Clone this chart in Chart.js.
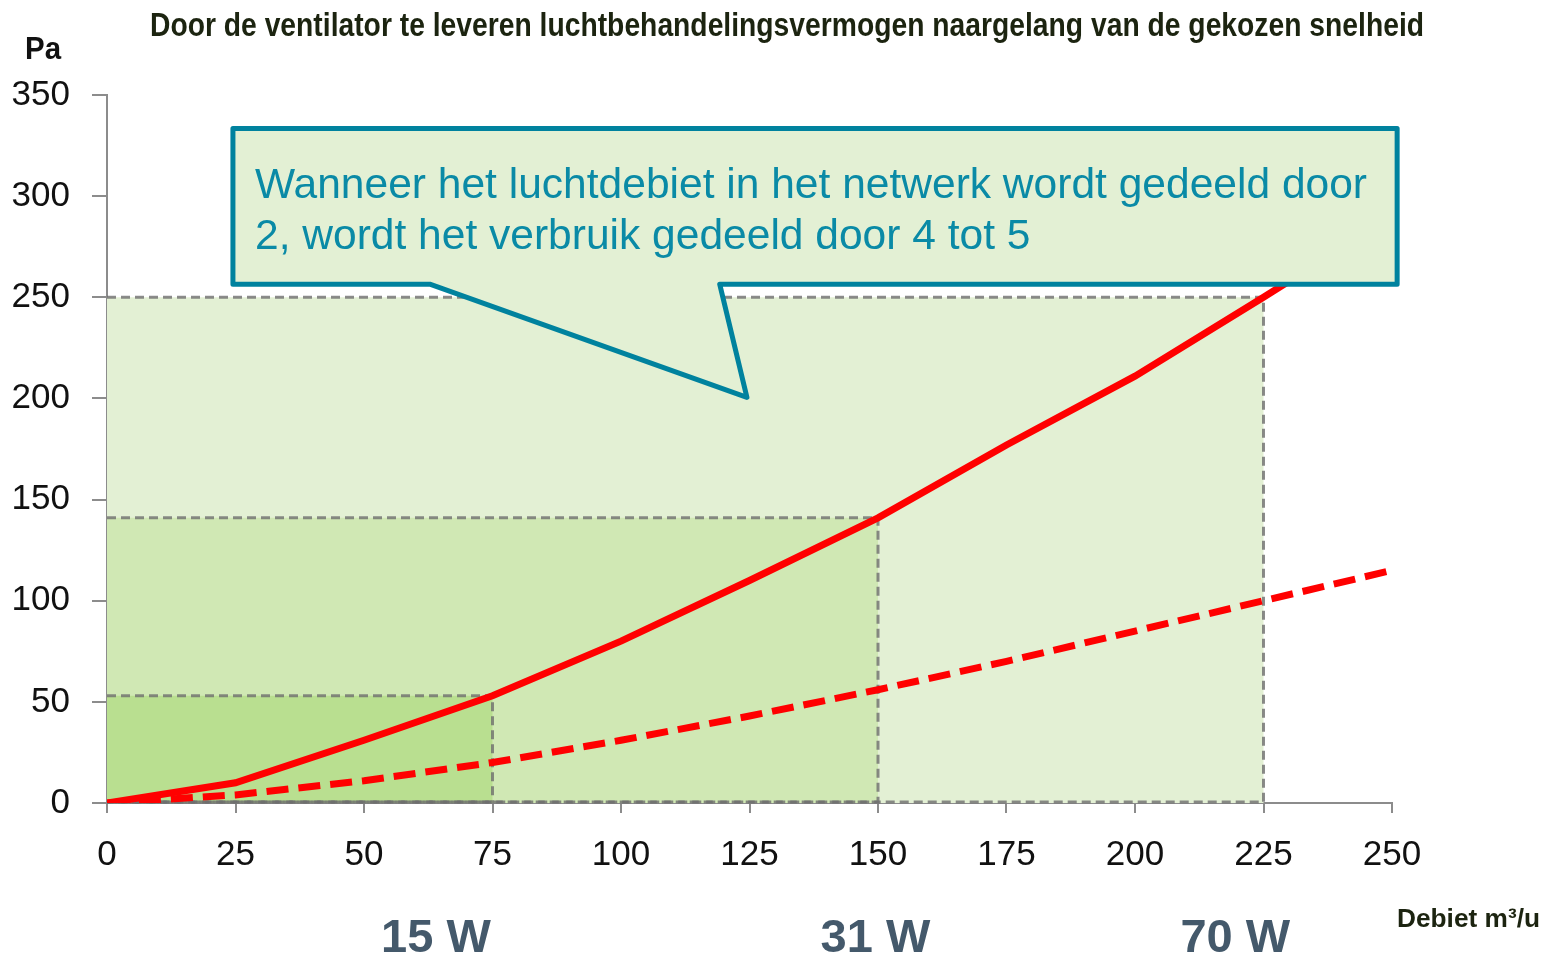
<!DOCTYPE html>
<html>
<head>
<meta charset="utf-8">
<script src="https://cdn.jsdelivr.net/npm/chart.js@4.4.1/dist/chart.umd.min.js"></script>
<style>
  html, body { margin: 0; padding: 0; background: #fff; }
  #wrap { width: 1551px; height: 955px; position: relative; }
</style>
</head>
<body>
<div id="wrap"><canvas id="fanChart"></canvas></div>
<script>
// --- Data ---
const flowValues = [0, 25, 50, 75, 100, 125, 150, 175, 200, 225, 250];
const pressureFull = [0, 10, 31, 53, 80, 110, 141, 177, 211, 250, 290];
const pressureHalf = [0, 4, 11, 20, 31, 43, 56, 70, 85, 100, 115];

// operating points (flow, pressure) and the power at each
const opFlow = [75, 150, 225];
const opPressure = [53, 141, 250];
const opPower = ['15 W', '31 W', '70 W'];
const powerLabelX = [64, 149.5, 219.5];

const titleText = 'Door de ventilator te leveren luchtbehandelingsvermogen naargelang van de gekozen snelheid';
const calloutLines = ['Wanneer het luchtdebiet in het netwerk wordt gedeeld door', '2, wordt het verbruik gedeeld door 4 tot 5'];

// Colors
const redColor = '#ff0000';
const axisColor = '#8c8c8c';
const shadeColors = ['#e3f0d4', '#d0e8b4', '#b9df90'];
const tealColor = '#00829e';
const calloutFill = '#e3f0d4';
const slateColor = '#44596b';
const darkText = '#1c2410';

function toXY(xs, ys) {
    return xs.map(function (x, i) { return { x: x, y: ys[i] }; });
}

// draw text scaled to a given width
function fitText(ctx, text, x, y, targetW) {
    const w = ctx.measureText(text).width;
    ctx.save();
    ctx.translate(x, y);
    ctx.scale(targetW / w, 1);
    ctx.fillText(text, 0, 0);
    ctx.restore();
}

// Shaded operating areas behind the curves
const shadePlugin = {
    id: 'shade',
    beforeDatasetsDraw(chart) {
        const ctx = chart.ctx;
        const xs = chart.scales.x, ys = chart.scales.y;
        const x0 = xs.getPixelForValue(0), y0 = ys.getPixelForValue(0);
        ctx.save();
        for (let i = opFlow.length - 1; i >= 0; i--) {
            const x1 = xs.getPixelForValue(opFlow[i]);
            const y1 = ys.getPixelForValue(opPressure[i]);
            ctx.fillStyle = shadeColors[opFlow.length - 1 - i];
            ctx.fillRect(x0, y1, x1 - x0, y0 - y1);
        }
        ctx.setLineDash([9, 5]);
        ctx.lineWidth = 3;
        ctx.strokeStyle = 'rgba(110,110,110,0.8)';
        for (let i = 0; i < opFlow.length; i++) {
            const x1 = xs.getPixelForValue(opFlow[i]);
            const y1 = ys.getPixelForValue(opPressure[i]);
            ctx.beginPath();
            ctx.moveTo(x0, y1);
            ctx.lineTo(x1, y1);
            ctx.lineTo(x1, y0 - 1);
            ctx.lineTo(x0, y0 - 1);
            ctx.stroke();
        }
        ctx.restore();
    }
};

// Callout, title and extra labels on top
const overlayPlugin = {
    id: 'overlay',
    afterDraw(chart) {
        const ctx = chart.ctx;
        const xs = chart.scales.x, ys = chart.scales.y;
        const px = function (v) { return xs.getPixelForValue(v); };
        const py = function (v) { return ys.getPixelForValue(v); };

        ctx.save();
        // callout box with pointer
        const L = px(24.5), R = px(251), T = py(333.5), B = py(256.5);
        ctx.beginPath();
        ctx.moveTo(L, T);
        ctx.lineTo(R, T);
        ctx.lineTo(R, B);
        ctx.lineTo(px(119.2), B);
        ctx.lineTo(px(124.5), py(200.5));
        ctx.lineTo(px(62.8), B);
        ctx.lineTo(L, B);
        ctx.closePath();
        ctx.fillStyle = calloutFill;
        ctx.fill();
        ctx.lineWidth = 5;
        ctx.lineJoin = 'round';
        ctx.strokeStyle = tealColor;
        ctx.stroke();

        ctx.fillStyle = '#0a8aa6';
        ctx.font = '42px "Liberation Sans", Arial, sans-serif';
        ctx.textAlign = 'left';
        ctx.textBaseline = 'alphabetic';
        const w0 = ctx.measureText(calloutLines[0]).width;
        const k = 1112 / w0;
        fitText(ctx, calloutLines[0], 255, 198, 1112);
        fitText(ctx, calloutLines[1], 255, 249, ctx.measureText(calloutLines[1]).width * k);

        // title
        ctx.fillStyle = darkText;
        ctx.font = 'bold 34px "Liberation Sans", Arial, sans-serif';
        fitText(ctx, titleText, 150, 36, 1274);

        // Pa
        ctx.font = 'bold 32px "Liberation Sans", Arial, sans-serif';
        ctx.fillStyle = '#111';
        fitText(ctx, 'Pa', 25, 59, 36);

        // Debiet
        ctx.fillStyle = darkText;
        ctx.font = 'bold 26px "Liberation Sans", Arial, sans-serif';
        fitText(ctx, 'Debiet m³/u', 1397, 927, 143);

        // power labels
        ctx.fillStyle = slateColor;
        ctx.font = 'bold 47px "Liberation Sans", Arial, sans-serif';
        ctx.textAlign = 'center';
        for (let i = 0; i < opPower.length; i++) {
            ctx.fillText(opPower[i], px(powerLabelX[i]), 952);
        }
        ctx.restore();
    }
};

const tickFont = { family: '"Liberation Sans", Arial, sans-serif', size: 35 };

new Chart(document.getElementById('fanChart').getContext('2d'), {
    type: 'line',
    data: {
        datasets: [{
            label: 'Volle snelheid',
            data: toXY(flowValues, pressureFull),
            borderColor: redColor,
            borderWidth: 7,
            pointRadius: 0,
            tension: 0
        },
        {
            label: 'Halve snelheid',
            data: toXY(flowValues, pressureHalf),
            borderColor: redColor,
            borderWidth: 7,
            borderDash: [22, 10],
            pointRadius: 0,
            tension: 0
        }]
    },
    options: {
        responsive: true,
        maintainAspectRatio: false,
        animation: false,
        layout: { padding: { top: 95, right: 159, bottom: 0, left: 0 } },
        scales: {
            x: {
                type: 'linear',
                min: 0,
                max: 250,
                afterFit: function (scale) { scale.height = 152; },
                border: { color: axisColor, width: 2 },
                grid: { drawOnChartArea: false, tickLength: 10, color: axisColor, lineWidth: 2 },
                ticks: { stepSize: 25, color: '#111', font: tickFont, padding: 21, maxRotation: 0 }
            },
            y: {
                min: 0,
                max: 350,
                afterFit: function (scale) { scale.width = 107; },
                border: { color: axisColor, width: 2 },
                grid: { drawOnChartArea: false, tickLength: 15, color: axisColor, lineWidth: 2 },
                ticks: { stepSize: 50, color: '#111', font: tickFont, padding: 22 }
            }
        },
        plugins: {
            legend: { display: false },
            tooltip: { enabled: false }
        }
    },
    plugins: [shadePlugin, overlayPlugin]
});
</script>
</body>
</html>
